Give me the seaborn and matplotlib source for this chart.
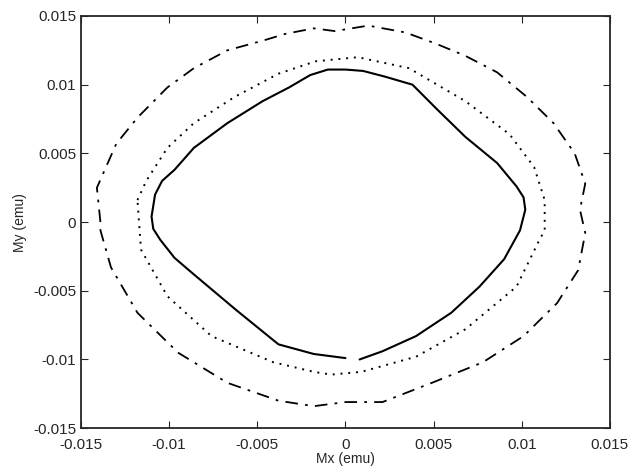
import numpy as np
import pandas as pd
import seaborn as sns
from matplotlib import pyplot as plt

# inner loop (solid), open near the bottom
mx_solid = [0.0008, 0.0021, 0.0040, 0.0060, 0.0076, 0.0090, 0.0099, 0.0102, 0.0101, 0.0097, 0.0086,
            0.0068, 0.0052, 0.0038, 0.0022, 0.0010, 0.0000, -0.0010, -0.0020, -0.0032, -0.0047, -0.0067,
            -0.0086, -0.0097, -0.0104, -0.0108, -0.0110, -0.0109, -0.0105, -0.0097, -0.0087, -0.0062,
            -0.0038, -0.0018, 0.0000]
my_solid = [-0.0100, -0.0094, -0.0083, -0.0066, -0.0047, -0.0027, -0.0006, 0.0009, 0.0018, 0.0026, 0.0043,
            0.0062, 0.0082, 0.0100, 0.0106, 0.0110, 0.0111, 0.0111, 0.0107, 0.0098, 0.0088, 0.0072,
            0.0054, 0.0038, 0.0030, 0.0020, 0.0004, -0.0005, -0.0013, -0.0026, -0.0037, -0.0064,
            -0.0089, -0.0096, -0.0099]

# middle loop (dotted)
mx_dot = [-0.0118, -0.0113, -0.0101, -0.0086, -0.0063, -0.0038, -0.0017, 0.0007, 0.0036, 0.0068,
          0.0093, 0.0107, 0.0113, 0.0113, 0.0110, 0.0097, 0.0068, 0.0040, 0.0009, -0.0008,
          -0.0018, -0.0041, -0.0076, -0.0101, -0.0116, -0.0118]
my_dot = [0.0016, 0.0030, 0.0054, 0.0072, 0.0091, 0.0108, 0.0117, 0.0120, 0.0112, 0.0088,
          0.0064, 0.0040, 0.0016, -0.0006, -0.0013, -0.0047, -0.0078, -0.0098, -0.0109, -0.0111,
          -0.0109, -0.0102, -0.0083, -0.0054, -0.0020, 0.0016]

# outer loop (dash-dot)
mx_dd = [-0.0139, -0.0141, -0.0130, -0.0118, -0.0101, -0.0086, -0.0067, -0.0047, -0.0034, -0.0018,
         -0.0006, 0.0013, 0.0034, 0.0051, 0.0068, 0.0086, 0.0103, 0.0118, 0.0130, 0.0136,
         0.0133, 0.0136, 0.0132, 0.0120, 0.0101, 0.0078, 0.0049, 0.0021, 0.0000, -0.0018,
         -0.0038, -0.0067, -0.0095, -0.0118, -0.0133, -0.0139, -0.0139]
my_dd = [0.0000, 0.0025, 0.0057, 0.0076, 0.0098, 0.0112, 0.0125, 0.0132, 0.0137, 0.0141,
         0.0139, 0.0143, 0.0138, 0.0130, 0.0121, 0.0109, 0.0091, 0.0072, 0.0050, 0.0028,
         0.0009, -0.0008, -0.0035, -0.0059, -0.0083, -0.0102, -0.0117, -0.0131, -0.0131, -0.0134,
         -0.0130, -0.0117, -0.0095, -0.0066, -0.0033, -0.0006, 0.0000]

ticks = [-0.015, -0.01, -0.005, 0, 0.005, 0.01, 0.015]
tick_labels = ['-0.015', '-0.01', '-0.005', '0', '0.005', '0.01', '0.015']

sns.set_style('ticks', {'xtick.direction': 'in', 'ytick.direction': 'in'})
plt.rcParams['font.family'] = ['Liberation Sans', 'DejaVu Sans']

fig = plt.figure(figsize=(6.38, 4.70), dpi=100)
ax = fig.add_axes([0.127, 0.089, 0.829, 0.877])

sns.lineplot(x=mx_solid, y=my_solid, sort=False, estimator=None, color='black', lw=1.5, ax=ax)
sns.lineplot(x=mx_dot, y=my_dot, sort=False, estimator=None, color='black', lw=1.4,
             linestyle=(0, (1, 3)), ax=ax)
sns.lineplot(x=mx_dd, y=my_dd, sort=False, estimator=None, color='black', lw=1.3,
             linestyle=(0, (7, 4, 1.5, 4)), ax=ax)

ax.set_xlim(-0.015, 0.015)
ax.set_ylim(-0.015, 0.015)
ax.set_xticks(ticks)
ax.set_xticklabels(tick_labels, fontsize=11)
ax.set_yticks(ticks)
ax.set_yticklabels(tick_labels, fontsize=11)
ax.tick_params(direction='in', length=5, top=True, right=True, labeltop=False, labelright=False)
ax.tick_params(axis='x', pad=7)
for s in ax.spines.values():
    s.set_linewidth(1.3)
    s.set_visible(True)
ax.set_xlabel('Mx (emu)', fontsize=10, labelpad=0)
ax.set_ylabel('My (emu)', fontsize=10, labelpad=4)

fig.savefig('out.png', dpi=100)
